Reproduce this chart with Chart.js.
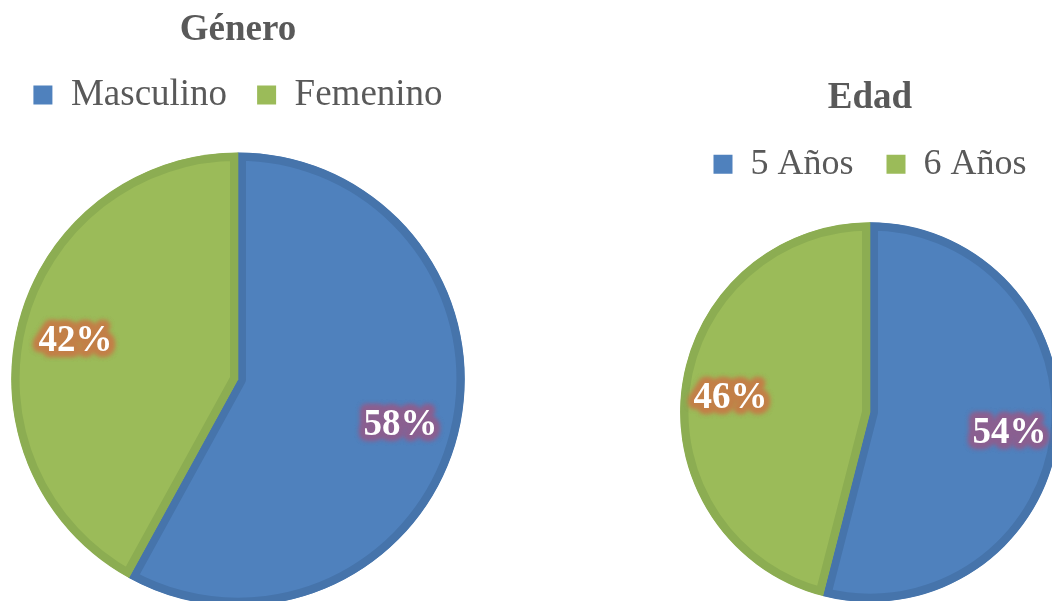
<!DOCTYPE html>
<html lang="es">
<head>
<meta charset="utf-8">
<title>Género y Edad</title>
<script src="https://cdn.jsdelivr.net/npm/chart.js@4"></script>
<style>
  html, body { margin: 0; padding: 0; background: #fff; overflow: hidden; width: 1052px; height: 601px; }
  canvas { position: absolute; top: 0; }
  #generoChart { left: -42px; }
  #edadChart { left: 670px; }
</style>
</head>
<body>
<canvas id="generoChart" width="560" height="606"></canvas>
<canvas id="edadChart" width="400" height="602"></canvas>
<script>
// datos
const generoLabels = ["Masculino", "Femenino"];
const generoValues = [58, 42];
const edadLabels = ["5 Años", "6 Años"];
const edadValues = [54, 46];

// colores
const fillColors = ["#4f81bd", "#9bbb59"];
const borderColors = ["#4674ab", "#8cad52"];
const glowColors = ["#8a5f90", "#c27f47"];

// etiquetas de porcentaje con brillo
const etiquetasPlugin = {
  id: "etiquetas",
  afterDatasetsDraw(chart, args, opts) {
    const ctx = chart.ctx;
    const meta = chart.getDatasetMeta(0);
    const data = chart.data.datasets[0].data;
    const total = data.reduce((a, b) => a + b, 0);
    meta.data.forEach((arc, i) => {
      const p = arc.getProps(["x", "y", "startAngle", "endAngle", "outerRadius"], true);
      const mid = (p.startAngle + p.endAngle) / 2;
      const r = p.outerRadius * opts.posicion;
      const x = p.x + Math.cos(mid) * r;
      const y = p.y + Math.sin(mid) * r + 4;
      const texto = Math.round((data[i] / total) * 100) + "%";
      ctx.save();
      ctx.font = "bold 37px 'Liberation Serif'";
      ctx.textAlign = "center";
      ctx.textBaseline = "middle";
      ctx.lineJoin = "round";
      ctx.filter = "blur(2.5px)";
      ctx.strokeStyle = glowColors[i];
      ctx.lineWidth = 10;
      ctx.strokeText(texto, x, y);
      ctx.strokeText(texto, x, y);
      ctx.filter = "none";
      ctx.fillStyle = "#ffffff";
      ctx.fillText(texto, x, y);
      ctx.restore();
    });
  },
};

// margen debajo de la leyenda
function margenLeyenda(px) {
  return {
    id: "margenLeyenda",
    beforeInit(chart) {
      const fitOriginal = chart.legend.fit;
      chart.legend.fit = function () {
        fitOriginal.bind(chart.legend)();
        this.height += px;
      };
    },
  };
}

function crearPie(id, labels, values, titulo, tituloOpts, leyendaOpts) {
  return new Chart(document.getElementById(id), {
    type: "pie",
    data: {
      labels: labels,
      datasets: [
        {
          data: values,
          backgroundColor: fillColors,
          borderColor: borderColors,
          borderWidth: 8,
          borderAlign: "inner",
        },
      ],
    },
    plugins: [etiquetasPlugin, margenLeyenda(leyendaOpts.margen)],
    options: {
      responsive: false,
      animation: false,
      events: [],
      layout: { padding: 0 },
      plugins: {
        title: {
          display: true,
          text: titulo,
          color: "#595959",
          font: { family: "Liberation Serif", size: 37, weight: "bold", lineHeight: tituloOpts.lineHeight },
          padding: { top: tituloOpts.top, bottom: 0 },
        },
        legend: {
          position: "top",
          labels: {
            color: "#595959",
            font: { family: "Liberation Serif", size: leyendaOpts.size },
            boxWidth: 19,
            boxHeight: 19,
            padding: leyendaOpts.padding,
            generateLabels: function (chart) {
              return chart.data.labels.map((l, i) => ({
                text: l,
                fillStyle: fillColors[i],
                strokeStyle: fillColors[i],
                fontColor: "#595959",
                lineWidth: 0,
                index: i,
                hidden: false,
              }));
            },
          },
        },
        tooltip: { enabled: false },
        etiquetas: { posicion: 0.74 },
      },
    },
  });
}

crearPie("generoChart", generoLabels, generoValues, "Género",
  { lineHeight: 0.876, top: 14 }, { size: 37, padding: 30, margen: 29 });
crearPie("edadChart", edadLabels, edadValues, "Edad",
  { lineHeight: 0.79, top: 84 }, { size: 36, padding: 33, margen: 30 });
</script>
</body>
</html>
